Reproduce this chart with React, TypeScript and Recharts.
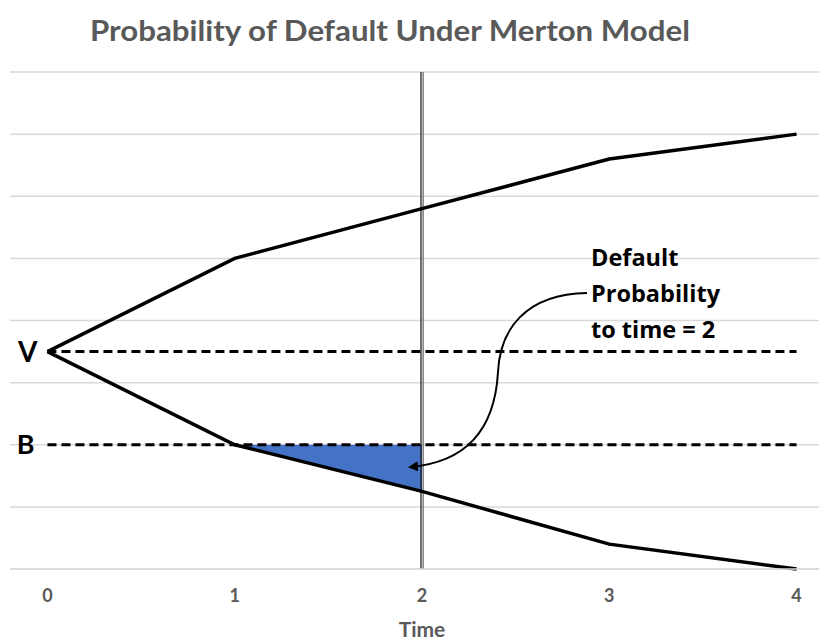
import React from "react";
import {
  Area,
  CartesianGrid,
  ComposedChart,
  Line,
  ReferenceLine,
  XAxis,
  YAxis,
} from "recharts";

const times = [0, 1, 2, 3, 4];
const upperPath = [3.5, 5.0, 5.8, 6.6, 7.0];
const lowerPath = [3.5, 2.0, 1.25, 0.4, 0.0];
const assetValue = 3.5; // V
const barrier = 2; // B
const horizon = 2;
const yTicks = [0, 1, 2, 3, 4, 5, 6, 7, 8];

const FONT = "Lato, 'Open Sans', sans-serif";
const NOTE_FONT = "'Open Sans', Lato, sans-serif";
const GRAY = "#595959";

const rows = times.map((t, i) => ({ t, upper: upperPath[i], lower: lowerPath[i] }));

// shaded region between barrier and the lower path, from t=1 to the horizon
const bandRows = times
  .filter((t) => t >= 1 && t <= horizon)
  .map((t) => ({ t, band: [lowerPath[times.indexOf(t)], barrier] }));

function DoubleLine(props: any) {
  const { x1, y1, y2 } = props;
  return (
    <g>
      <line x1={x1 - 1} x2={x1 - 1} y1={y1} y2={y2} stroke="#111" strokeWidth={1.2} />
      <line x1={x1 + 1.2} x2={x1 + 1.2} y1={y1} y2={y2} stroke="#888" strokeWidth={1.6} />
    </g>
  );
}

export default function App() {
  return (
    <div style={{ position: "absolute", left: 0, top: 0, width: 819, height: 644, background: "#fff" }}>
      <ComposedChart
        width={819}
        height={644}
        data={rows}
        margin={{ top: 72, right: 0, bottom: 0, left: 10 }}
      >
        <CartesianGrid vertical={false} stroke="#d9d9d9" strokeWidth={1.5} />
        <XAxis
          dataKey="t"
          type="number"
          domain={[-0.2, 4.12]}
          ticks={times}
          height={75}
          tickLine={false}
          axisLine={{ stroke: "#d9d9d9", strokeWidth: 1.5 }}
          tickMargin={14}
          tick={{ fill: GRAY, fontSize: 18, fontWeight: 700, fontFamily: FONT }}
        />
        <YAxis hide domain={[0, 8]} ticks={yTicks} />
        <Area
          data={bandRows}
          dataKey="band"
          type="linear"
          fill="#4472C4"
          fillOpacity={1}
          stroke="none"
          isAnimationActive={false}
        />
        <ReferenceLine
          segment={[{ x: 0, y: assetValue }, { x: 4, y: assetValue }]}
          stroke="#000"
          strokeWidth={3}
          strokeDasharray="9 5"
          label={{ value: "V", position: "left", offset: 10, fill: "#000", fontSize: 28, fontWeight: 700, fontFamily: FONT }}
        />
        <ReferenceLine
          segment={[{ x: 0, y: barrier }, { x: 4, y: barrier }]}
          stroke="#000"
          strokeWidth={3}
          strokeDasharray="9 5"
          label={{ value: "B", position: "left", offset: 13, fill: "#000", fontSize: 27, fontWeight: 700, fontFamily: FONT }}
        />
        <ReferenceLine x={horizon} shape={DoubleLine} />
        <Line
          dataKey="upper"
          type="linear"
          stroke="#000"
          strokeWidth={3.5}
          dot={false}
          strokeLinejoin="miter"
          isAnimationActive={false}
        />
        <Line
          dataKey="lower"
          type="linear"
          stroke="#000"
          strokeWidth={3.5}
          dot={false}
          strokeLinejoin="miter"
          isAnimationActive={false}
        />
      </ComposedChart>
      <svg
        width={819}
        height={644}
        style={{ position: "absolute", left: 0, top: 0, pointerEvents: "none" }}
      >
        <text
          x={390}
          y={41}
          textAnchor="middle"
          fill={GRAY}
          fontSize={28}
          fontWeight={700}
          fontFamily={FONT}
          textLength={600}
          lengthAdjust="spacingAndGlyphs"
        >
          Probability of Default Under Merton Model
        </text>
        <text x={422} y={637} textAnchor="middle" fill={GRAY} fontSize={21} fontWeight={700} fontFamily={FONT}>
          Time
        </text>
        <defs>
          <marker id="head" viewBox="0 0 10 10" refX="8" refY="5" markerWidth="5" markerHeight="5" orient="auto">
            <path d="M0,0 L10,5 L0,10 z" fill="#000" />
          </marker>
        </defs>
        <path
          d="M587,293 C525,294 500,330 498,372 C495,425 470,462 410,467"
          fill="none"
          stroke="#000"
          strokeWidth={2}
          markerEnd="url(#head)"
        />
        <g fill="#000" fontSize={23.5} fontWeight={700} fontFamily={NOTE_FONT}>
          <text x={591} y={266}>Default</text>
          <text x={591} y={302}>Probability</text>
          <text x={591} y={338}>to time = 2</text>
        </g>
      </svg>
    </div>
  );
}
